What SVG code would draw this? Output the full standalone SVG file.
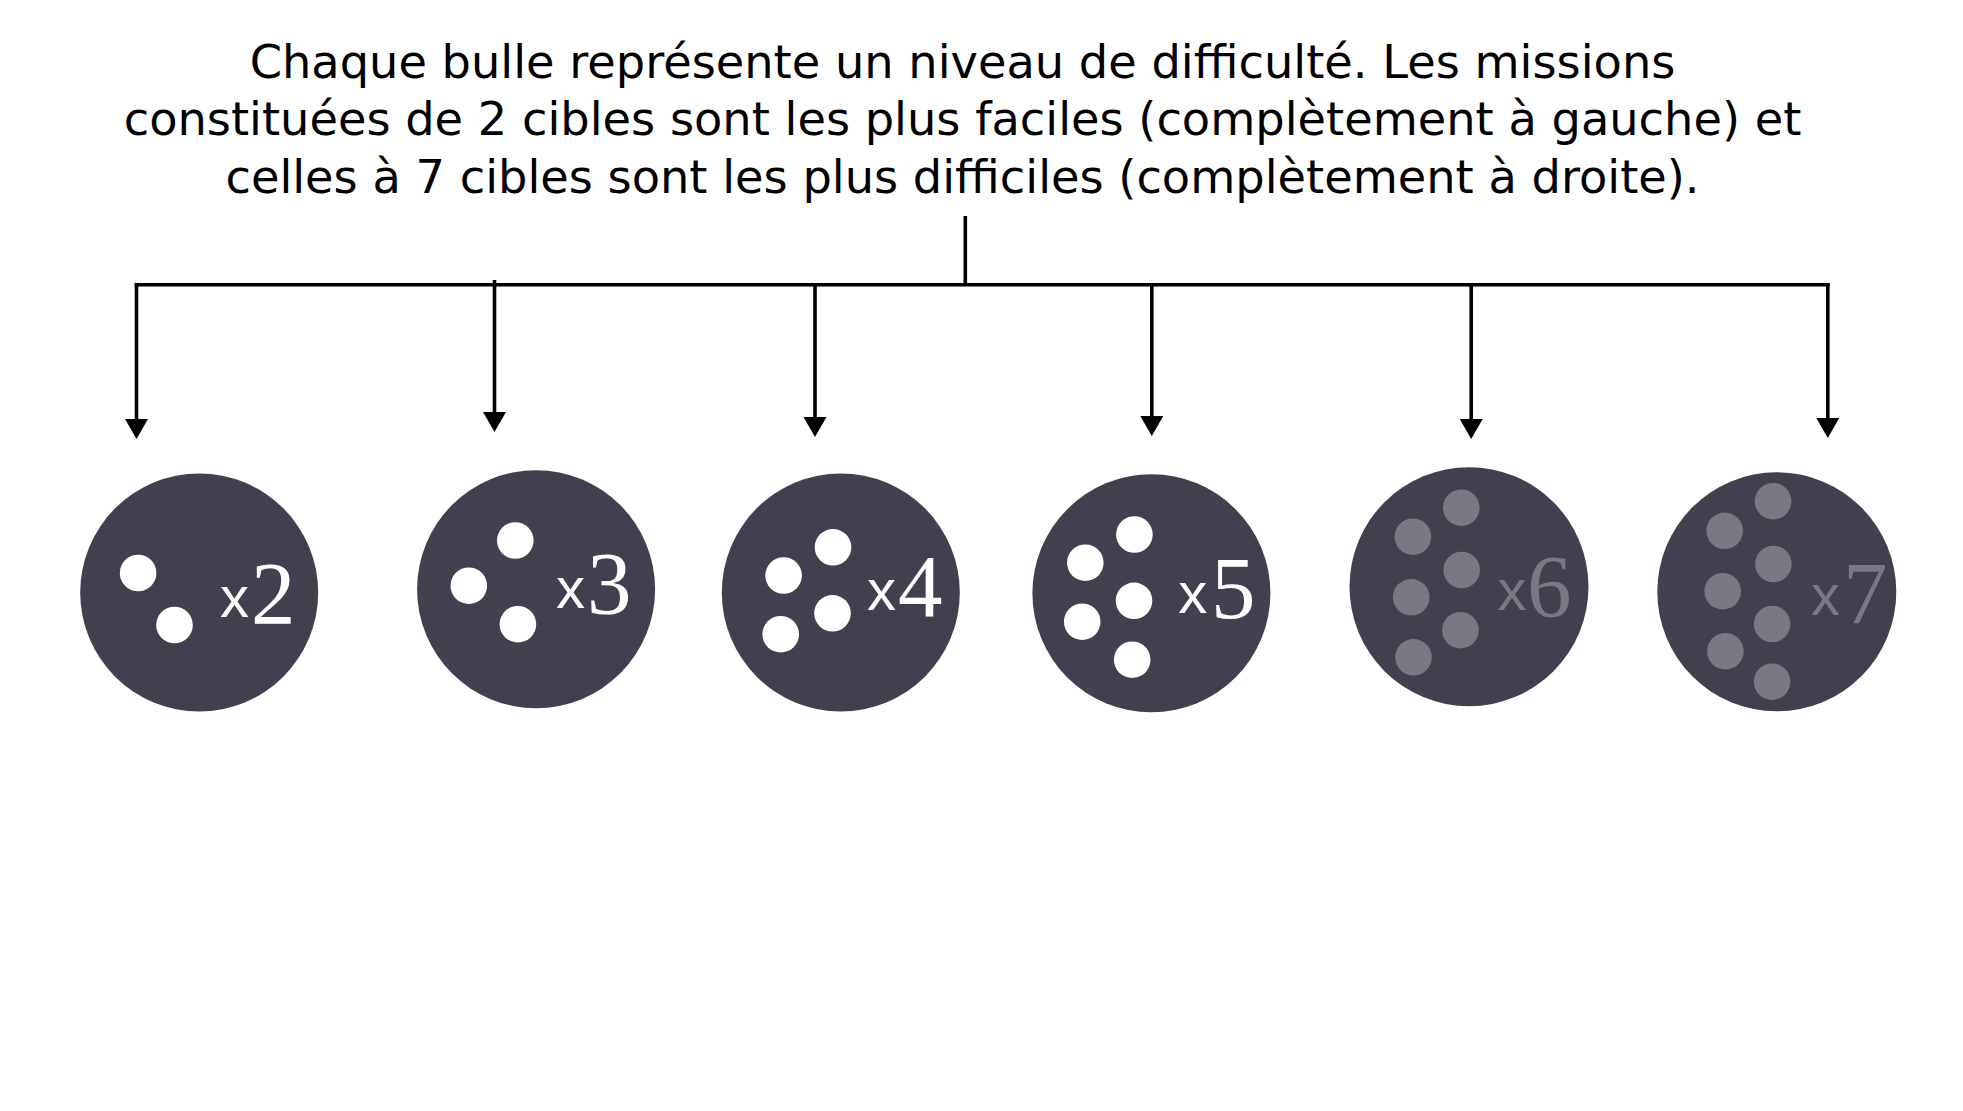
<svg xmlns="http://www.w3.org/2000/svg" width="1963" height="1111" viewBox="0 0 1963 1111">
  <defs>
    <style>
      .title { font-family: "DejaVu Sans", Verdana, sans-serif; font-size: 46.3px; fill: #000; text-anchor: middle; }
      .bubble { fill: #423f4f; }
      .dot { fill: #ffffff; }
      .dot.dim { fill: #7b7884; }
      .mul { font-family: "Liberation Sans", Arial, sans-serif; font-size: 58px; fill: #ffffff; }
      .num { font-family: "Liberation Serif", "Times New Roman", serif; font-size: 89px; fill: #ffffff; }
      .dim-text { fill: #7b7884; }
      .wire { stroke: #000; stroke-width: 3.6; fill: none; }
    </style>
    <marker id="arrow" markerUnits="userSpaceOnUse" markerWidth="22" markerHeight="24" refX="2" refY="11.5" orient="auto">
      <path d="M0,0 L20,11.5 L0,23 Z" fill="#000"/>
    </marker>
  </defs>

  <rect width="1963" height="1111" fill="#ffffff"/>

  <g id="title">
    <text class="title" x="962.5" y="78">Chaque bulle représente un niveau de difficulté. Les missions</text>
    <text class="title" x="962.5" y="135">constituées de 2 cibles sont les plus faciles (complètement à gauche) et</text>
    <text class="title" x="962.5" y="193">celles à 7 cibles sont les plus difficiles (complètement à droite).</text>
  </g>

  <g id="connectors">
    <line class="wire" x1="965.3" y1="216" x2="965.3" y2="285"/>
    <line class="wire" x1="134.7" y1="284.8" x2="1829.6" y2="284.8"/>
    <line class="wire" x1="136.5" y1="283" x2="136.5" y2="421" marker-end="url(#arrow)"/>
    <line class="wire" x1="494.5" y1="280" x2="494.5" y2="414" marker-end="url(#arrow)"/>
    <line class="wire" x1="815" y1="283" x2="815" y2="419" marker-end="url(#arrow)"/>
    <line class="wire" x1="1151.8" y1="283" x2="1151.8" y2="418" marker-end="url(#arrow)"/>
    <line class="wire" x1="1471.2" y1="283" x2="1471.2" y2="421" marker-end="url(#arrow)"/>
    <line class="wire" x1="1827.8" y1="283" x2="1827.8" y2="420" marker-end="url(#arrow)"/>
  </g>

  <g id="level-2">
    <circle class="bubble" cx="199.2" cy="592.5" r="119"/>
    <circle class="dot" cx="138.1" cy="573" r="18.3"/>
    <circle class="dot" cx="174.5" cy="625" r="18.3"/>
    <text class="mul" x="220" y="616.7">x</text>
    <text class="num" x="251" y="623">2</text>
  </g>

  <g id="level-3">
    <circle class="bubble" cx="536.1" cy="589.2" r="119"/>
    <circle class="dot" cx="515.3" cy="540.5" r="18.3"/>
    <circle class="dot" cx="468.8" cy="585.7" r="18.3"/>
    <circle class="dot" cx="517.9" cy="624.2" r="18.3"/>
    <text class="mul" x="556" y="607.7">x</text>
    <text class="num" x="587" y="613">3</text>
  </g>

  <g id="level-4">
    <circle class="bubble" cx="840.8" cy="592.5" r="119"/>
    <circle class="dot" cx="833" cy="547.3" r="18.3"/>
    <circle class="dot" cx="783.6" cy="575.5" r="18.3"/>
    <circle class="dot" cx="832.5" cy="613.3" r="18.3"/>
    <circle class="dot" cx="780.7" cy="634.2" r="18.3"/>
    <text class="mul" x="867" y="610">x</text>
    <text class="num" x="898" y="615.7">4</text>
  </g>

  <g id="level-5">
    <circle class="bubble" cx="1151.4" cy="593.3" r="119"/>
    <circle class="dot" cx="1134.4" cy="534.5" r="18.3"/>
    <circle class="dot" cx="1085.3" cy="562.7" r="18.3"/>
    <circle class="dot" cx="1134" cy="600.8" r="18.3"/>
    <circle class="dot" cx="1082.2" cy="621.7" r="18.3"/>
    <circle class="dot" cx="1132.2" cy="659.7" r="18.3"/>
    <text class="mul" x="1178.3" y="613.3">x</text>
    <text class="num" x="1211" y="618">5</text>
  </g>

  <g id="level-6">
    <circle class="bubble" cx="1469" cy="586.7" r="119.5"/>
    <circle class="dot dim" cx="1461.3" cy="507.7" r="18.3"/>
    <circle class="dot dim" cx="1412.9" cy="536.7" r="18.3"/>
    <circle class="dot dim" cx="1461.7" cy="570" r="18.3"/>
    <circle class="dot dim" cx="1411.2" cy="597.3" r="18.3"/>
    <circle class="dot dim" cx="1460.4" cy="630.2" r="18.3"/>
    <circle class="dot dim" cx="1413.5" cy="657.3" r="18.3"/>
    <text class="mul dim-text" x="1497.4" y="610">x</text>
    <text class="num dim-text" x="1527" y="616">6</text>
  </g>

  <g id="level-7">
    <circle class="bubble" cx="1776.8" cy="591.8" r="119.5"/>
    <circle class="dot dim" cx="1773.1" cy="501.2" r="18.3"/>
    <circle class="dot dim" cx="1724.7" cy="530.8" r="18.3"/>
    <circle class="dot dim" cx="1773.4" cy="564" r="18.3"/>
    <circle class="dot dim" cx="1722.7" cy="591.2" r="18.3"/>
    <circle class="dot dim" cx="1772.1" cy="624" r="18.3"/>
    <circle class="dot dim" cx="1725.4" cy="651.2" r="18.3"/>
    <circle class="dot dim" cx="1772.1" cy="681.7" r="18.3"/>
    <text class="mul dim-text" x="1811" y="615">x</text>
    <text class="num dim-text" x="1843" y="622.7">7</text>
  </g>
</svg>
